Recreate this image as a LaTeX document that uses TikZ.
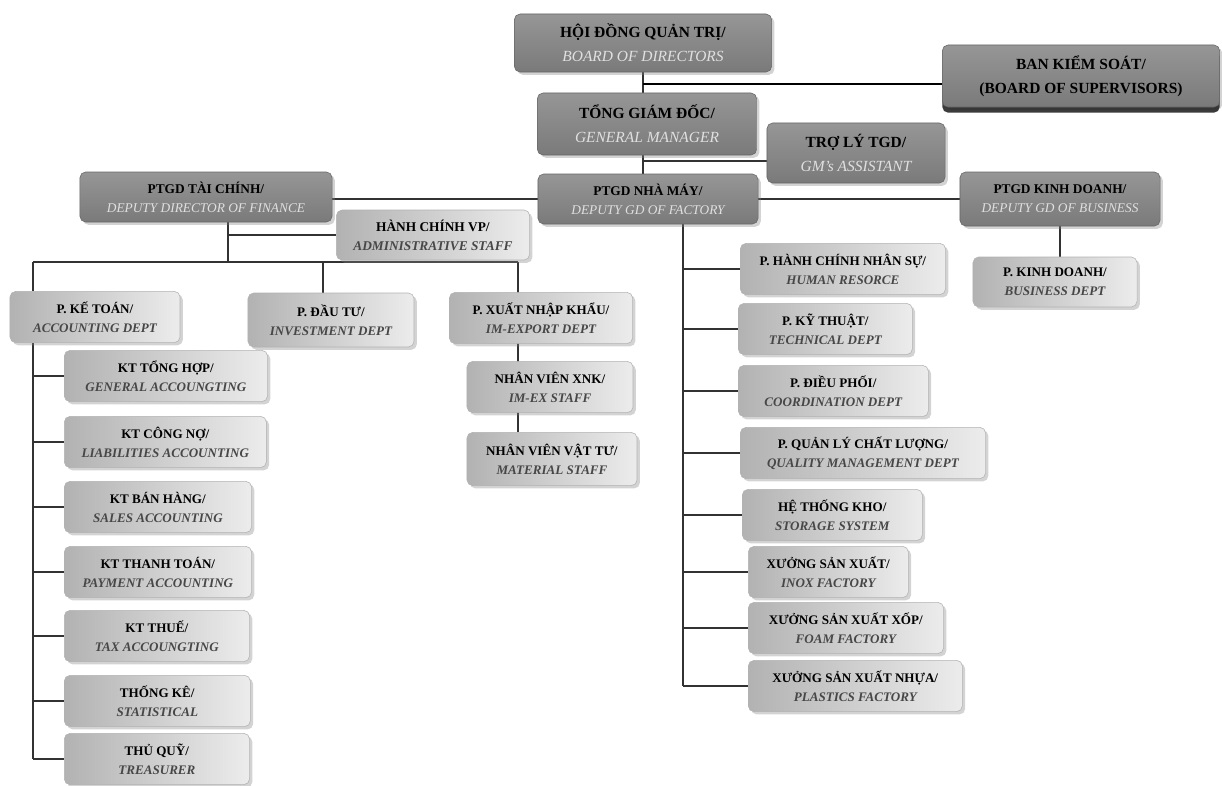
\documentclass[tikz,border=0pt]{standalone}
\usepackage{fontspec}
\setmainfont{Liberation Serif}
\usetikzlibrary{positioning, shadows, backgrounds}
\definecolor{boardtop}{RGB}{150,150,150}
\definecolor{boardbot}{RGB}{122,122,122}
\definecolor{deptdark}{RGB}{178,178,178}
\definecolor{deptlight}{RGB}{236,236,236}
\definecolor{linegrey}{RGB}{50,50,50}
\colorlet{subtext}{black!72}
\newcommand{\subshape}{\bfseries\itshape}
\newcommand{\twoline}[2]{\textbf{#1/}\\{\color{subtext}\subshape #2}}

\begin{document}
\begin{tikzpicture}[x=0.025cm, y=-0.025cm,
  boxbase/.style={rounded corners=4pt, align=center, inner sep=2pt,
    drop shadow={shadow xshift=2pt, shadow yshift=-2pt, opacity=0.35}},
  topbox/.style={boxbase, draw=black!60, top color=boardtop, bottom color=boardbot,
    font=\fontsize{11}{17}\selectfont, minimum height=1.45cm,
    execute at begin node={\colorlet{subtext}{white!88!black}\def\subshape{\itshape}}},
  deputybox/.style={topbox, font=\fontsize{9.5}{13.5}\selectfont, minimum height=1.25cm},
  deptbox/.style={boxbase, draw=black!30, left color=deptdark, right color=deptlight,
    font=\fontsize{9.3}{13.5}\selectfont, minimum height=1.28cm},
  link/.style={draw=linegrey, line width=1.3pt}]
  \useasboundingbox (0,0) rectangle (1222,785);

  % Board level
  \node[topbox, minimum width=6.43cm] (hdqt) at (643,43) {\twoline{HỘI ĐỒNG QUẢN TRỊ}{BOARD OF DIRECTORS}};
  \node[topbox, minimum width=6.93cm, minimum height=1.55cm,
    drop shadow={shadow xshift=0pt, shadow yshift=-4pt, fill=black!85, opacity=0.9}]
    (bks) at (1081,76) {\textbf{BAN KIỂM SOÁT/}\\\textbf{(BOARD OF SUPERVISORS)}};
  \node[topbox, minimum width=5.48cm, minimum height=1.55cm] (tgd) at (647,124) {\twoline{TỔNG GIÁM ĐỐC}{GENERAL MANAGER}};
  \node[topbox, minimum width=4.45cm, minimum height=1.5cm] (trogd) at (856,153) {\twoline{TRỢ LÝ TGD}{GM's ASSISTANT}};

  % Deputy directors
  \node[deputybox, minimum width=6.3cm] (ptgdtc) at (206,197) {\twoline{PTGD TÀI CHÍNH}{DEPUTY DIRECTOR OF FINANCE}};
  \node[deputybox, minimum width=5.5cm] (ptgdnm) at (648,199) {\twoline{PTGD NHÀ MÁY}{DEPUTY GD OF FACTORY}};
  \node[deputybox, minimum width=5cm, minimum height=1.35cm] (ptgdkd) at (1060,199) {\twoline{PTGD KINH DOANH}{DEPUTY GD OF BUSINESS}};

  % Finance branch
  \node[deptbox, minimum width=4.83cm, minimum height=1.25cm, font=\fontsize{9.5}{13.5}\selectfont] (hcvp) at (433,235) {\twoline{HÀNH CHÍNH VP}{ADMINISTRATIVE STAFF}};
  \node[deptbox, minimum width=4.25cm] (ketoan) at (95,317) {\twoline{P. KẾ TOÁN}{ACCOUNTING DEPT}};
  \node[deptbox, minimum width=4.15cm, minimum height=1.35cm] (dautu) at (331,320) {\twoline{P. ĐẦU TƯ}{INVESTMENT DEPT}};
  \node[deptbox, minimum width=4.58cm] (xnk) at (541,318) {\twoline{P. XUẤT NHẬP KHẨU}{IM-EXPORT DEPT}};
  \node[deptbox, minimum width=4.15cm] (nvxnk) at (550,387) {\twoline{NHÂN VIÊN XNK}{IM-EX STAFF}};
  \node[deptbox, minimum width=4.25cm, minimum height=1.33cm] (nvvt) at (552,459) {\twoline{NHÂN VIÊN VẬT TƯ}{MATERIAL STAFF}};

  % Accounting sections
  \foreach \nm/\yy/\ww/\vn/\en in {kt1/376/5.08/KT TỔNG HỢP/GENERAL ACCOUNGTING,
      kt2/442/5.05/KT CÔNG NỢ/LIABILITIES ACCOUNTING, kt3/507/4.68/KT BÁN HÀNG/SALES ACCOUNTING,
      kt4/572/4.68/KT THANH TOÁN/PAYMENT ACCOUNTING, kt5/636/4.63/KT THUẾ/TAX ACCOUNGTING,
      kt6/701/4.65/THỐNG KÊ/STATISTICAL, kt7/759/4.63/THỦ QUỸ/TREASURER}
    \node[deptbox, anchor=west, minimum width=\ww cm] (\nm) at (64,\yy) {\twoline{\vn}{\en}};

  % Business branch
  \node[deptbox, minimum width=4.1cm, minimum height=1.25cm] (pkd) at (1055,282) {\twoline{P. KINH DOANH}{BUSINESS DEPT}};

  % Factory branch
  \foreach \nm/\xx/\yy/\ww/\vn/\en in {hcns/740/269/5.13/P. HÀNH CHÍNH NHÂN SỰ/HUMAN RESORCE,
      kythuat/738/329/4.35/P. KỸ THUẬT/TECHNICAL DEPT, dieuphoi/738/391/4.75/P. ĐIỀU PHỐI/COORDINATION DEPT,
      qlcl/740/453/6.13/P. QUẢN LÝ CHẤT LƯỢNG/QUALITY MANAGEMENT DEPT, kho/742/515/4.5/HỆ THỐNG KHO/STORAGE SYSTEM,
      inox/748/572/4.0/XƯỞNG SẢN XUẤT/INOX FACTORY, xop/748/628/4.88/XƯỞNG SẢN XUẤT XỐP/FOAM FACTORY,
      nhua/748/686/5.35/XƯỞNG SẢN XUẤT NHỰA/PLASTICS FACTORY}
    \node[deptbox, anchor=west, minimum width=\ww cm] (\nm) at (\xx,\yy) {\twoline{\vn}{\en}};

  % Connectors
  \begin{scope}[on background layer]
    \coordinate (bksj) at (643,84);
    \coordinate (troj) at (643,161);
    \coordinate (fin) at (228,262);
    \coordinate (busL) at (33,262);
    \coordinate (busM) at (323,262);
    \coordinate (busR) at (518,262);
    \coordinate (fac) at (683,262);
    \draw[link] (hdqt.south) -- (hdqt.south |- ptgdnm.north);
    \draw[link, line width=1.8pt, draw=black] (bksj) -- (bksj -| bks.west);
    \draw[link] (troj) -- (troj -| trogd.west);
    \draw[link] (ptgdtc.east |- ptgdnm.west) -- (ptgdnm.west);
    \draw[link] (ptgdnm.east) -- (ptgdnm.east -| ptgdkd.west);
    \draw[link] (ptgdkd.south) -- (ptgdkd.south |- pkd.north);
    \draw[link] (ptgdtc.south -| fin) -- (fin);
    \draw[link] (fin |- hcvp.west) -- (hcvp.west);
    \draw[link] (busL) -- (busR);
    \draw[link] (busL) -- (busL |- ketoan.north);
    \draw[link] (busM) -- (busM |- dautu.north);
    \draw[link] (busR) -- (busR |- nvvt.north);
    \draw[link] (ketoan.south -| busL) -- (busL |- kt7.west);
    \foreach \nm in {kt1,kt2,kt3,kt4,kt5,kt6,kt7}
      \draw[link] (\nm.west -| busL) -- (\nm.west);
    \draw[link] (ptgdnm.south -| fac) -- (fac |- nhua.west);
    \foreach \nm in {hcns,kythuat,dieuphoi,qlcl,kho,inox,xop,nhua}
      \draw[link] (\nm.west -| fac) -- (\nm.west);
  \end{scope}
\end{tikzpicture}
\end{document}
